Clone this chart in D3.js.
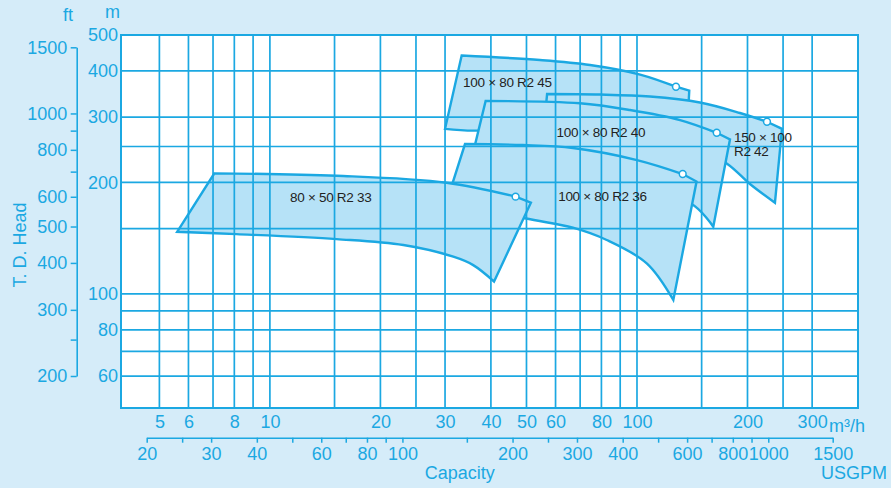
<!DOCTYPE html>
<html>
<head>
<meta charset="utf-8">
<script src="https://cdn.jsdelivr.net/npm/d3@7"></script>
<style>
  html, body { margin: 0; padding: 0; background: #d5ecf9; }
  svg { display: block; font-family: "Liberation Sans", Arial, Helvetica, sans-serif; }
</style>
</head>
<body>
<svg id="chart" width="891" height="488"></svg>
<script>
// ---------- data ----------
// capacity axis (m3/h)
const xGridValues = [5,6,7,8,9,10,15,20,25,30,40,50,60,70,80,90,100,150,200,250,300];
const xTickLabels = [5,6,8,10,20,30,40,50,60,80,100,200,300];
// head axis (m)
const yGridValues = [60,70,80,90,100,150,200,250,300,400];
const yTickLabels = [60,80,100,200,300,400,500];
// head axis (ft)
const ftTicks = [200,250,300,400,500,600,700,800,900,1000,1500];
const ftTickLabels = [200,300,400,500,600,800,1000,1500];
// capacity axis (USGPM)
const gpmTicks = [20,25,30,40,50,60,70,80,90,100,150,200,250,300,400,500,600,700,800,900,1000,1500];
const gpmTickLabels = [20,30,40,60,80,100,200,300,400,600,800,1000,1500];

// pump ranges: [Q m3/h, H m]
const r245Top = [[33.3,440],[54.4,428],[74.5,415],[102,391],[127.7,362.5]];
const r245Corner = [138.8,354];
const r245Bottom = [[137.7,304],[62.9,291],[36.8,276],[30.0,279]];

const r242Top = [[56.9,346.4],[79.3,345.3],[108.5,341],[148.4,328.6],[190.8,307.9],[226,291.6]];
const r242Corner = [248.3,279];
const r242Bottom = [[237.6,176.3],[203.1,198],[175.5,225],[131,260],[79.3,286],[56.2,304]];

const r240Top = [[38.7,331.7],[69.9,327],[95.7,313.6],[131,294.7],[164.9,272.3]];
const r240Corner = [179.2,261.4];
const r240Bottom = [[161.4,151.8],[140.9,174.8],[89.9,196.8],[58,213.3],[35.1,222.7]];

const r236Top = [[34.0,253.9],[48.9,252.3],[66.9,247.7],[100,229.8],[133.2,210.7]];
const r236Corner = [145.3,201.1];
const r236Bottom = [[125.6,96.3],[106.3,120.9],[82.7,139.8],[66.9,150.9],[49.5,160],[30.4,179.2]];

const r233Top = [[7.06,211.6],[15.2,208.4],[30.3,199.6],[46.7,183]];
const r233Corner = [51.4,176.3];
const r233Bottom = [[40.8,108],[35.8,119.6],[31.6,126],[23.1,135.5],[15.2,140.6],[8.12,145],[5.59,147.1]];

const seriesNames = ["100 × 80 R2 45","150 × 100 R2 42","100 × 80 R2 40","100 × 80 R2 36","80 × 50 R2 33"];
// label anchors [Q, H] (left end of text, baseline)
const labelLines = [["100 × 80 R2 45"],["150 × 100","R2 42"],["100 × 80 R2 40"],["100 × 80 R2 36"],["80 × 50 R2 33"]];
const labelAnchors = [[33.6,362.5],[183.7,257.6],[60.4,265.7],[61.0,178.1],[11.35,177.3]];

// ---------- drawing ----------
const BLUE = "#1ba8e2";
const FILL = "#b6e2f7";
const BG = "#d5ecf9";
const TXT = "#222222";
const FS = 18;

const svg = d3.select("#chart");
svg.append("rect").attr("width",891).attr("height",488).attr("fill",BG);

const x = d3.scaleLog().domain([3.93, 400]).range([121, 858]);
const y = d3.scaleLog().domain([49.2, 500]).range([408, 35]);
const yFt = d3.scaleLog().domain([200, 1500]).range([376, 47.3]);
const xGpm = d3.scaleLog().domain([20, 1500]).range([146.7, 832.7]);

const [x0, x1] = x.range();
const [y0, y1] = y.range();

// plot background
svg.append("rect").attr("x",x0).attr("y",y1).attr("width",x1-x0).attr("height",y0-y1).attr("fill","#ffffff");

const series = [
  {top:r245Top, corner:r245Corner, bottom:r245Bottom},
  {top:r242Top, corner:r242Corner, bottom:r242Bottom},
  {top:r240Top, corner:r240Corner, bottom:r240Bottom},
  {top:r236Top, corner:r236Corner, bottom:r236Bottom},
  {top:r233Top, corner:r233Corner, bottom:r233Bottom}
].map((s,i)=>Object.assign(s,{name:seriesNames[i]}));

const curveLine = d3.line().x(d=>x(d[0])).y(d=>y(d[1])).curve(d3.curveCatmullRom.alpha(0.5));

const gArea = svg.append("g");
series.forEach(s=>{
  const d = curveLine(s.top) + "L" + x(s.corner[0]) + "," + y(s.corner[1]) +
            curveLine(s.bottom).replace(/^M/,"L") + "Z";
  gArea.append("path").attr("d",d).attr("fill",FILL).attr("stroke",BLUE)
    .attr("stroke-width",2.4).attr("stroke-linejoin","miter");
});

// grid
const gGrid = svg.append("g").attr("stroke",BLUE).attr("stroke-width",1.7);
gGrid.selectAll("line.v").data(xGridValues).join("line")
  .attr("x1",d=>x(d)).attr("x2",d=>x(d)).attr("y1",y1).attr("y2",y0);
gGrid.selectAll("line.h").data(yGridValues).join("line")
  .attr("x1",x0).attr("x2",x1).attr("y1",d=>y(d)).attr("y2",d=>y(d));

// markers
series.forEach(s=>{
  const m = s.top[s.top.length-1];
  svg.append("circle").attr("cx",x(m[0])).attr("cy",y(m[1])).attr("r",3.4)
    .attr("fill","#ffffff").attr("stroke",BLUE).attr("stroke-width",1.5);
});

// frame
svg.append("rect").attr("x",x0).attr("y",y1).attr("width",x1-x0).attr("height",y0-y1)
  .attr("fill","none").attr("stroke",BLUE).attr("stroke-width",2);

// curve labels
labelLines.forEach((lines,i)=>{
  const t = svg.append("text").attr("x",x(labelAnchors[i][0])).attr("y",y(labelAnchors[i][1]))
    .attr("fill",TXT).attr("font-size",13.5).attr("letter-spacing","-0.3px");
  lines.forEach((ln,j)=>{
    t.append("tspan").attr("x",x(labelAnchors[i][0])).attr("dy",j===0?0:14.3).text(ln);
  });
});

function styleAxis(g){
  g.selectAll("text").attr("fill",BLUE).attr("font-size",FS).attr("font-family",'"Liberation Sans", Arial, sans-serif');
  g.selectAll("line").attr("stroke",BLUE).attr("stroke-width",1.5);
  g.selectAll("path.domain").attr("stroke",BLUE).attr("stroke-width",1.6);
}

// m axis (left)
const axM = svg.append("g").attr("transform",`translate(${x0},0)`)
  .call(d3.axisLeft(y).tickValues(yTickLabels).tickSize(0).tickPadding(3).tickFormat(d3.format("d")));
axM.select("path.domain").remove();
styleAxis(axM);

// ft axis
const axFt = svg.append("g").attr("transform","translate(76.7,0)")
  .call(d3.axisLeft(yFt).tickValues(ftTicks).tickSize(6).tickSizeOuter(0).tickPadding(3.5)
    .tickFormat(d=>ftTickLabels.includes(d)?String(d):""));
styleAxis(axFt);

// m3/h axis (bottom)
const axQ = svg.append("g").attr("transform",`translate(0,${y0})`)
  .call(d3.axisBottom(x).tickValues(xTickLabels).tickSize(0).tickPadding(7.5).tickFormat(d3.format("d")));
axQ.select("path.domain").remove();
styleAxis(axQ);

// USGPM axis
const axG = svg.append("g").attr("transform","translate(0,437.7)")
  .call(d3.axisBottom(xGpm).tickValues(gpmTicks).tickSize(5).tickSizeOuter(0).tickPadding(4.5)
    .tickFormat(d=>gpmTickLabels.includes(d)?String(d):""));
styleAxis(axG);

// titles
const title = (txt,xx,yy,anchor)=>svg.append("text").attr("x",xx).attr("y",yy).attr("fill",BLUE)
  .attr("font-size",FS).attr("text-anchor",anchor||"middle").text(txt);
title("ft",68,20.7);
title("m",112.5,18.3);
title("m³/h",829,431.7,"start");
title("Capacity",459.7,478.5);
title("USGPM",854,479);
svg.append("text").attr("transform","translate(25.5,245) rotate(-90)").attr("text-anchor","middle")
  .attr("fill",BLUE).attr("font-size",FS).text("T. D. Head");
</script>
</body>
</html>
